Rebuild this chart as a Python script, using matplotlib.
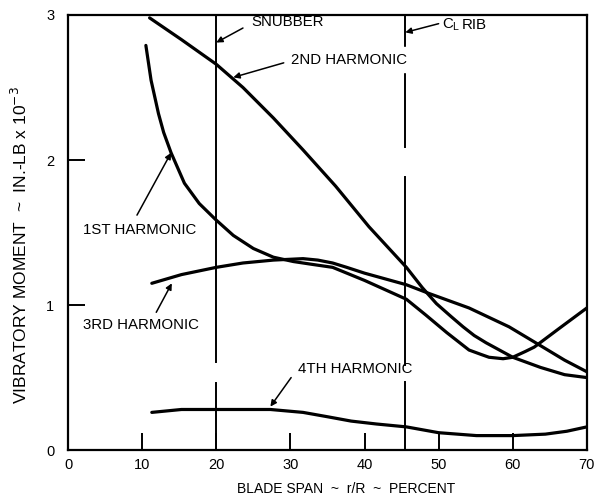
import matplotlib
matplotlib.use('Agg')
import matplotlib.pyplot as plt

plt.rcParams['font.family'] = ['Liberation Sans', 'DejaVu Sans']

###########################
# values (span in percent, moment in in.-lb x 1e-3)

h1_x = [10.5, 11.2, 12.2, 12.9, 13.9, 15.7, 17.7, 19.9, 22.3, 25.0, 27.7, 30.4,
        33.0, 35.7, 40.0, 45.65, 48.3, 51.1, 54.1, 55.7, 56.8, 58.7, 60.0,
        61.7, 62.9, 66.3, 70.0]
h1_y = [2.79, 2.55, 2.32, 2.19, 2.05, 1.84, 1.70, 1.59, 1.48, 1.39, 1.33, 1.30,
        1.28, 1.26, 1.17, 1.04, 0.93, 0.81, 0.69, 0.66, 0.64, 0.63, 0.64,
        0.68, 0.71, 0.84, 0.98]

h2_x = [11.0, 15.3, 20.0, 23.6, 27.7, 31.7, 36.1, 40.6, 45.65, 47.8, 49.7,
        51.7, 53.3, 54.8, 56.4, 60.0, 63.75, 67.0, 70.0]
h2_y = [2.98, 2.83, 2.66, 2.50, 2.29, 2.07, 1.82, 1.54, 1.26, 1.12, 1.01,
        0.92, 0.85, 0.79, 0.74, 0.64, 0.57, 0.52, 0.50]

h3_x = [11.3, 15.3, 20.0, 23.6, 27.7, 31.7, 33.7, 35.7, 37.6, 40.0, 45.65,
        48.7, 54.1, 59.5, 63.75, 67.0, 70.0]
h3_y = [1.15, 1.21, 1.26, 1.29, 1.31, 1.32, 1.31, 1.29, 1.26, 1.22, 1.14,
        1.08, 0.98, 0.85, 0.72, 0.62, 0.54]

h4_x = [11.3, 15.3, 20.0, 23.6, 27.3, 31.7, 35.0, 38.2, 41.6, 45.65, 50.0,
        55.1, 60.0, 64.4, 67.3, 70.0]
h4_y = [0.26, 0.28, 0.28, 0.28, 0.28, 0.26, 0.23, 0.20, 0.18, 0.16, 0.12,
        0.10, 0.10, 0.11, 0.13, 0.16]

snubber_x = 20.0
snubber_pieces = [(0.0, 0.46), (0.61, 3.0)]
rib_x = 45.5
rib_pieces = [(0.0, 0.47), (0.59, 1.88), (2.09, 2.62), (2.68, 3.0)]

xticks = [0, 10, 20, 30, 40, 50, 60, 70]
yticks = [0, 1, 2, 3]

###########################

fig = plt.figure(figsize=(5.97, 4.99), dpi=100)
ax = fig.add_axes([0.114, 0.098, 0.869, 0.872])

for xs, ys in [(h1_x, h1_y), (h2_x, h2_y), (h3_x, h3_y), (h4_x, h4_y)]:
    ax.plot(xs, ys, color='black', lw=2.3, solid_capstyle='round',
            solid_joinstyle='round')

for lo, hi in snubber_pieces:
    ax.plot([snubber_x, snubber_x], [lo, hi], color='black', lw=1.4)
for lo, hi in rib_pieces:
    ax.plot([rib_x, rib_x], [lo, hi], color='black', lw=1.4)

ax.set_xlim(0, 70)
ax.set_ylim(0, 3)
ax.set_xticks(xticks)
ax.set_yticks(yticks)
ax.tick_params(direction='in', length=12, width=1.4, labelsize=10.5)
ax.tick_params(axis='x', pad=6)
ax.tick_params(axis='y', pad=10)
for s in ax.spines.values():
    s.set_linewidth(1.6)

ax.set_xlabel('BLADE SPAN  ~  r/R  ~  PERCENT', fontsize=10)
ax.xaxis.set_label_coords(0.536, -0.074)
ax.set_ylabel('VIBRATORY MOMENT  ~  IN.-LB x 10$^{-3}$', fontsize=12.5)
ax.yaxis.set_label_coords(-0.073, 0.471)

arw = dict(arrowstyle='-|>', lw=1.1, color='black', mutation_scale=9,
           shrinkA=0, shrinkB=0)
fs = 10.8
ax.text(24.7, 2.95, 'SNUBBER', fontsize=fs, va='center')
ax.annotate('', xy=(20.0, 2.81), xytext=(23.6, 2.91), arrowprops=arw)
ax.text(30.1, 2.69, '2ND HARMONIC', fontsize=fs, va='center',
        backgroundcolor='white')
ax.annotate('', xy=(22.3, 2.57), xytext=(29.1, 2.67), arrowprops=arw)
ax.annotate('', xy=(rib_x, 2.88), xytext=(50.0, 2.94), arrowprops=arw)
ax.text(50.5, 2.93, r'$\mathregular{C_L}$', fontsize=fs, va='center')
ax.text(53.1, 2.93, 'RIB', fontsize=fs, va='center')
ax.text(2.0, 1.52, '1ST HARMONIC', fontsize=fs, va='center')
ax.annotate('', xy=(13.9, 2.05), xytext=(9.3, 1.62), arrowprops=arw)
ax.text(2.0, 0.86, '3RD HARMONIC', fontsize=fs, va='center')
ax.annotate('', xy=(14.0, 1.15), xytext=(11.9, 0.95), arrowprops=arw)
ax.text(31.0, 0.56, '4TH HARMONIC', fontsize=fs, va='center')
ax.annotate('', xy=(27.3, 0.30), xytext=(30.1, 0.50), arrowprops=arw)

fig.savefig('out.png', dpi=100)
